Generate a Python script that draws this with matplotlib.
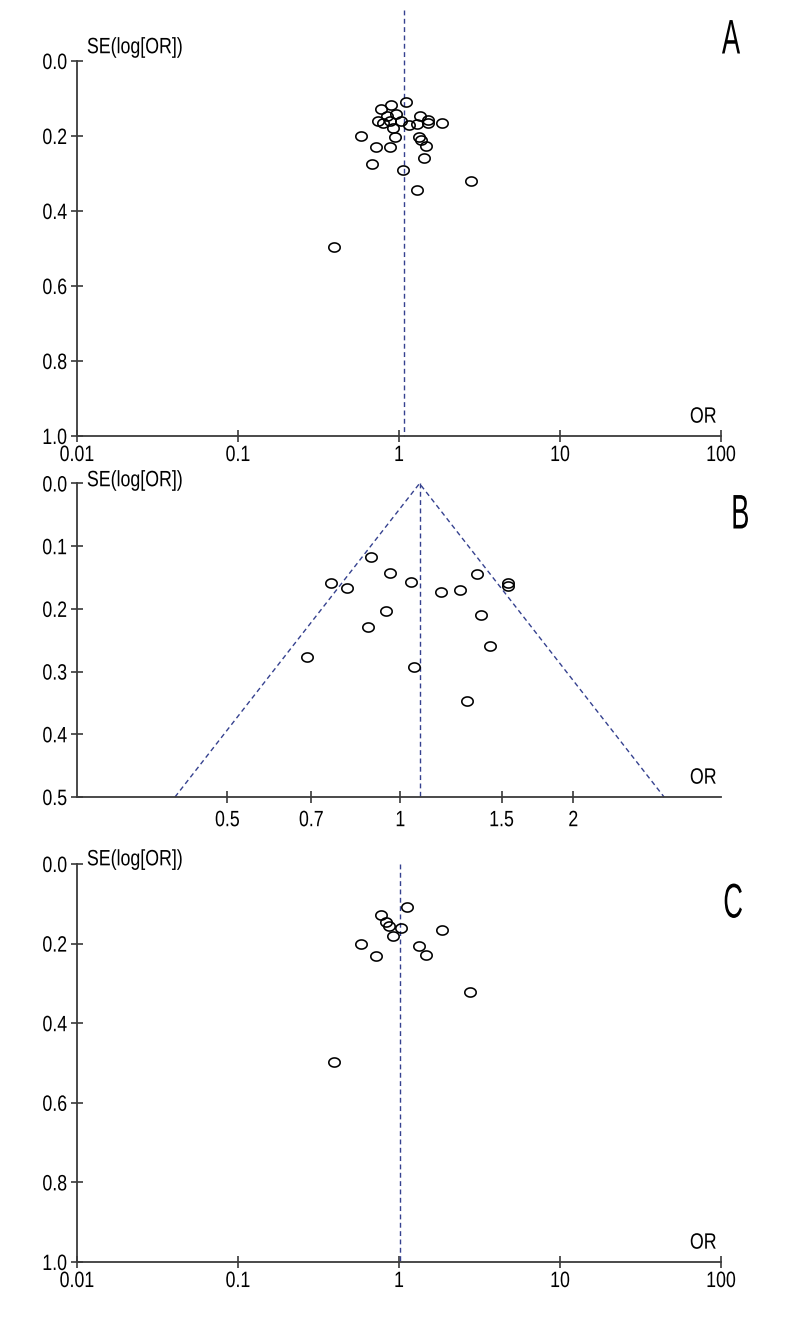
import numpy as np
import matplotlib
matplotlib.use("Agg")
import matplotlib.pyplot as plt
from matplotlib.path import Path
from matplotlib.transforms import Affine2D
from matplotlib.patheffects import AbstractPathEffect
from matplotlib.ticker import FixedLocator, FixedFormatter, NullLocator

plt.rcParams['font.family'] = ['Liberation Sans', 'DejaVu Sans']

# ---------------- data ----------------
# Panel A: all studies (OR, SE of log OR)
a_or = [1.105, 0.770, 0.892, 0.958, 0.839, 1.350, 0.744, 0.799, 0.879, 1.029,
        1.159, 1.288, 1.520, 1.520, 1.857, 0.922, 0.578, 0.944, 1.326, 1.364,
        1.471, 0.720, 0.879, 1.430, 0.683, 1.059, 2.790, 1.288, 0.395]
a_se = [0.109, 0.128, 0.118, 0.142, 0.147, 0.147, 0.159, 0.165, 0.159, 0.159,
        0.171, 0.169, 0.157, 0.165, 0.165, 0.179, 0.201, 0.203, 0.203, 0.211,
        0.227, 0.230, 0.230, 0.258, 0.275, 0.291, 0.319, 0.345, 0.496]
a_pooled = 1.07

# Panel B: subgroup (funnel with pseudo 95% limits)
b_or = [0.889, 0.960, 0.756, 0.807, 1.043, 1.179, 1.269, 1.361, 1.538, 1.538,
        1.380, 0.945, 0.878, 1.432, 0.689, 1.056, 1.306]
b_se = [0.118, 0.143, 0.159, 0.167, 0.157, 0.173, 0.170, 0.145, 0.158, 0.163,
        0.210, 0.204, 0.229, 0.259, 0.276, 0.292, 0.347]
b_pooled = 1.08

# Panel C: subgroup
c_or = [1.117, 0.770, 0.830, 0.863, 1.025, 0.922, 1.857, 0.578, 1.331, 0.720,
        1.471, 2.770, 0.395]
c_se = [0.109, 0.128, 0.146, 0.155, 0.160, 0.180, 0.166, 0.202, 0.205, 0.231,
        0.229, 0.322, 0.497]
c_pooled = 1.02

ac_xticks = [0.01, 0.1, 1, 10, 100]
ac_xlabels = ['0.01', '0.1', '1', '10', '100']
ac_yticks = [0.0, 0.2, 0.4, 0.6, 0.8, 1.0]
ac_ylabels = ['0.0', '0.2', '0.4', '0.6', '0.8', '1.0']
b_xticks = [0.5, 0.7, 1, 1.5, 2]
b_xlabels = ['0.5', '0.7', '1', '1.5', '2']
b_yticks = [0.0, 0.1, 0.2, 0.3, 0.4, 0.5]
b_ylabels = ['0.0', '0.1', '0.2', '0.3', '0.4', '0.5']
panel_letters = ['A', 'B', 'C']

# ---------------- styling ----------------
W, H = 792, 1320
fig = plt.figure(figsize=(W / 100, H / 100), dpi=100)


class Squash(AbstractPathEffect):
    """Draw text narrower (condensed look) around an anchor."""

    def __init__(self, sx, anchor='center'):
        super().__init__()
        self.sx = sx
        self.anchor = anchor

    def draw_path(self, renderer, gc, tpath, affine, rgbFace=None):
        ext = tpath.get_extents()
        if self.anchor == 'left':
            cx = ext.x0
        elif self.anchor == 'right':
            cx = ext.x1
        else:
            cx = 0.5 * (ext.x0 + ext.x1)
        t = Affine2D().translate(-cx, 0).scale(self.sx, 1.0).translate(cx, 0)
        renderer.draw_path(gc, tpath, t + affine, rgbFace)


t = np.linspace(0, 2 * np.pi, 60)
ell = Path(np.column_stack([np.cos(t), 0.8 * np.sin(t)]))

AX_COL = '#3a3a3a'
DASH_COL = '#35418f'
DASH = (0, (3.5, 2.5))
FS = 16
SQ = 0.8


def px_axes(left, right, top, bottom):
    return fig.add_axes([left / W, 1 - bottom / H, (right - left) / W, (bottom - top) / H])


def style(ax, xlim, ylim, xt, xl, yt, yl, xpad=2):
    ax.set_xscale('log')
    ax.set_xlim(*xlim)
    ax.set_ylim(*ylim)
    for s in ['top', 'right']:
        ax.spines[s].set_visible(False)
    for s in ['left', 'bottom']:
        ax.spines[s].set_color(AX_COL)
        ax.spines[s].set_linewidth(1.3)
    ax.xaxis.set_major_locator(FixedLocator(xt))
    ax.xaxis.set_major_formatter(FixedFormatter(xl))
    ax.xaxis.set_minor_locator(NullLocator())
    ax.set_yticks(yt)
    ax.set_yticklabels(yl)
    ax.tick_params(axis='x', direction='inout', length=9, width=1.2, colors=AX_COL,
                   labelcolor='black', labelsize=FS, pad=xpad)
    ax.tick_params(axis='y', direction='inout', length=8, width=1.2, colors=AX_COL,
                   labelcolor='black', labelsize=FS, pad=3)
    ax.patch.set_visible(False)


def add_labels(ax, se_dy, se_va):
    ax.annotate('SE(log[OR])', xy=(0, 1), xycoords='axes fraction',
                xytext=(7, se_dy), textcoords='offset points',
                ha='left', va=se_va, fontsize=FS, annotation_clip=False,
                path_effects=[Squash(SQ, 'left')])
    ax.annotate('OR', xy=(1, 0), xycoords='axes fraction',
                xytext=(-3, 6), textcoords='offset points',
                ha='right', va='bottom', fontsize=FS, annotation_clip=False,
                path_effects=[Squash(SQ, 'right')])


def scatter(ax, x, y):
    ax.plot(x, y, linestyle='none', marker=ell, markersize=8.2, markerfacecolor='none',
            markeredgecolor='black', markeredgewidth=1.15, clip_on=False, zorder=3)


# Panel A
axA = px_axes(77, 721, 61, 436)
style(axA, (0.01, 100), (1.0, 0.0), ac_xticks, ac_xlabels, ac_yticks, ac_ylabels)
axA.plot([a_pooled, a_pooled], [-51 / 375.0, 1.0], color=DASH_COL, lw=1.0,
         linestyle=DASH, clip_on=False)
scatter(axA, a_or, a_se)
add_labels(axA, 2, 'bottom')

# Panel B
axB = px_axes(77, 721, 483.5, 797)
style(axB, (0.2737, 3.615), (0.5, 0.0), b_xticks, b_xlabels, b_yticks, b_ylabels, xpad=5)
se_max = 0.5
axB.plot([b_pooled * np.exp(-1.96 * se_max), b_pooled, b_pooled * np.exp(1.96 * se_max)],
         [se_max, 0.0, se_max], color=DASH_COL, lw=1.0, linestyle=DASH, clip_on=False)
axB.plot([b_pooled, b_pooled], [0.0, se_max], color=DASH_COL, lw=1.0,
         linestyle=DASH, clip_on=False)
scatter(axB, b_or, b_se)
add_labels(axB, 2, 'center')

# Panel C
axC = px_axes(77, 721, 864, 1262)
style(axC, (0.01, 100), (1.0, 0.0), ac_xticks, ac_xlabels, ac_yticks, ac_ylabels)
axC.plot([c_pooled, c_pooled], [0.0, 1.0], color=DASH_COL, lw=1.0,
         linestyle=DASH, clip_on=False)
scatter(axC, c_or, c_se)
add_labels(axC, 3, 'center')

# Panel letters
for letter, (x, y) in zip(panel_letters, [(731, 41), (740, 516), (733, 905)]):
    fig.text(x / W, 1 - y / H, letter, fontsize=35, ha='center', va='center',
             path_effects=[Squash(0.56, 'center')])

# condensed look for tick labels
fig.canvas.draw()
for ax in (axA, axB, axC):
    for lab in ax.get_xticklabels():
        lab.set_path_effects([Squash(SQ, 'center')])
    for lab in ax.get_yticklabels():
        lab.set_path_effects([Squash(SQ, 'right')])

fig.savefig('out.png', dpi=100)
